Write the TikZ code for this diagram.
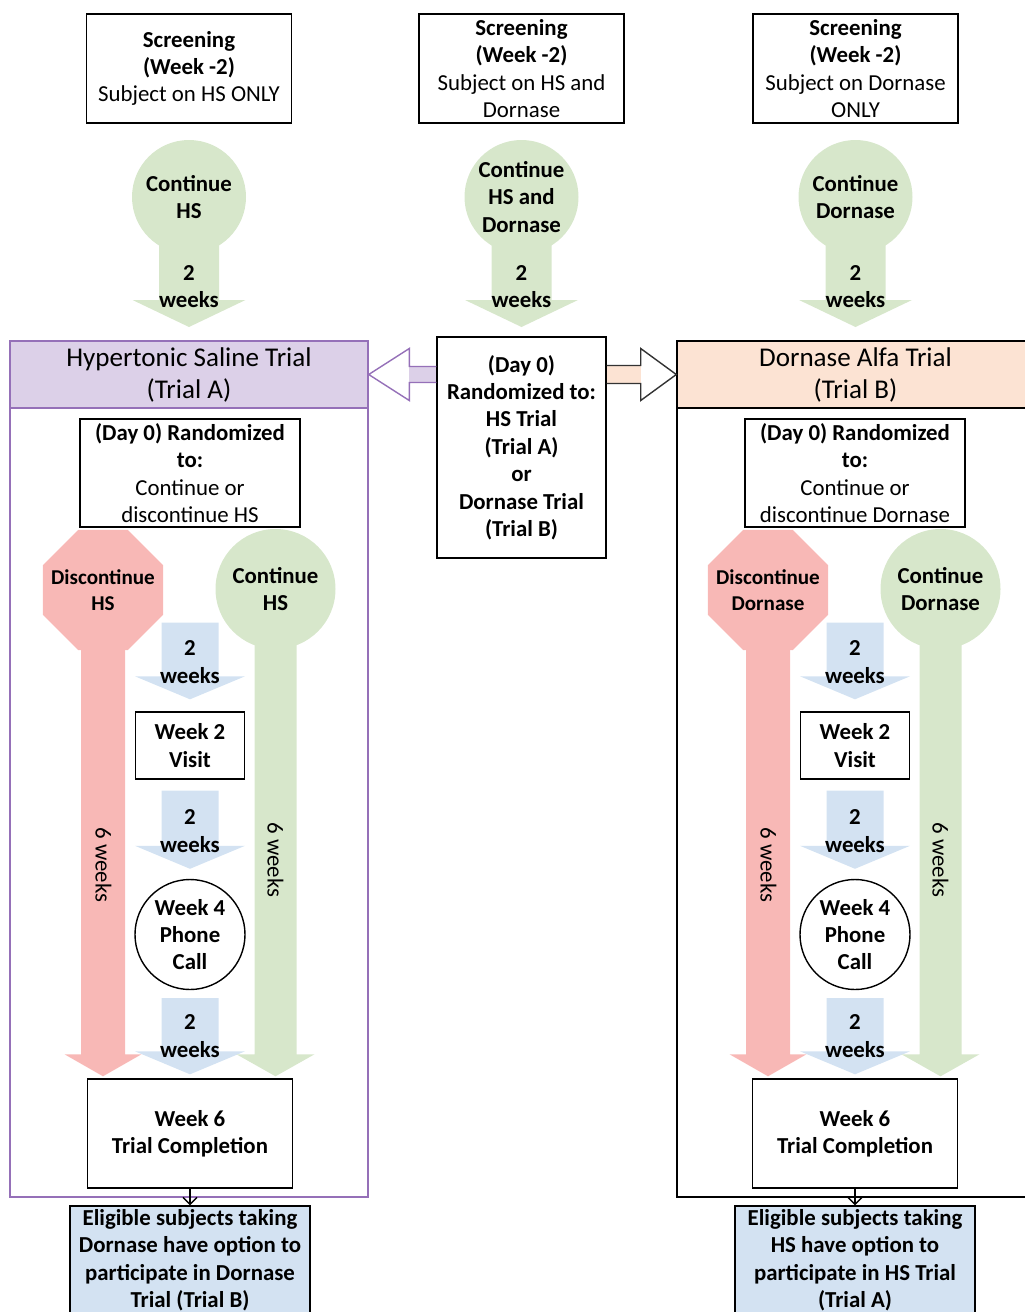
\documentclass[tikz,border=0pt]{standalone}
\usepackage{fontspec}
\setmainfont{Carlito}
\usetikzlibrary{calc,shapes.geometric,arrows.meta,backgrounds}

\definecolor{leafgreen}{HTML}{D7E7CB}
\definecolor{stopred}{HTML}{F8B8B6}
\definecolor{paleblue}{HTML}{D3E2F2}
\definecolor{lavender}{HTML}{DCD0E8}
\definecolor{peach}{HTML}{FCE3D3}
\definecolor{trialpurple}{HTML}{9570B8}

% fill, from, tip, shaft half width, head half width, head length
\newcommand{\fatarrow}[6]{%
  \fill[#1] ($(#2)+(-#4,0)$) -- ($(#2)+(#4,0)$) -- ($(#3)+(#4,-#6)$) -- ($(#3)+(#5,-#6)$)
    -- (#3) -- ($(#3)+(-#5,-#6)$) -- ($(#3)+(-#4,-#6)$) -- cycle;
}

\begin{document}
\begin{tikzpicture}[x=0.2mm,y=-0.2mm,
  every node/.style={font=\fontsize{13}{15.6}\selectfont, align=center},
  bold/.style={font=\fontsize{13}{15.6}\selectfont\bfseries},
  box/.style={draw, line width=0.8pt, fill=white, inner sep=0pt},
  blob/.style={circle, fill=leafgreen, inner sep=0pt, minimum size=#1},
  blob/.default=22.8mm,
  octo/.style={regular polygon, regular polygon sides=8, fill=stopred, inner sep=0pt,
    minimum size=26mm},
  octotext/.style={font=\fontsize{12}{14.6}\selectfont\bfseries}]

  \useasboundingbox (0,0) rectangle (1024,1312);

  % trial frames
  \draw[trialpurple, line width=0.8pt] (10,341) rectangle (368,1197);
  \draw[line width=0.8pt] (677,341) rectangle (1034,1197);

  \node[box, draw=trialpurple, fill=lavender, minimum width=71.6mm, minimum height=13.4mm,
    font=\fontsize{15.4}{18.2}\selectfont] (hdrA) at (189,374.5) {Hypertonic Saline Trial\\(Trial A)};
  \node[box, fill=peach, minimum width=71.4mm, minimum height=13.4mm,
    font=\fontsize{15.4}{18.2}\selectfont] (hdrB) at (855.5,374.5) {Dornase Alfa Trial\\(Trial B)};
  \node[box, bold, minimum width=33.8mm, minimum height=44.2mm] (mid) at (521.5,447.5)
    {(Day 0)\\Randomized to:\\HS Trial\\(Trial A)\\or\\Dornase Trial\\(Trial B)};

  % screening columns
  \foreach \nm/\xx/\scrtext/\conttext in {A/189/{Subject on HS ONLY}/{Continue\\HS},
      C/521.5/{Subject on HS and\\Dornase}/{Continue\\HS and\\Dornase},
      B/855.5/{Subject on Dornase\\ONLY}/{Continue\\Dornase}} {
    \node[box, minimum width=41mm, minimum height=21.8mm] (scr\nm) at (\xx,68.5)
      {\textbf{Screening}\\\textbf{(Week -2)}\\\scrtext};
    \node[blob, bold] (cont\nm) at (\xx,197) {\conttext};
    \coordinate (tip\nm) at (\xx,327);
    \node[bold] (two\nm) at (\xx,286.5) {2\\weeks};
    \begin{pgfonlayer}{background}
      \fatarrow{leafgreen}{cont\nm.center}{tip\nm}{30}{56.5}{27}
    \end{pgfonlayer}
  }

  % arrows to the two trials
  \coordinate (pa) at (hdrA.east -| mid.west);
  \fill[lavender] ($(pa)+(0,-8)$) rectangle ($(pa)+(-27,8)$);
  \draw[trialpurple, line width=0.8pt] ($(pa)+(0,-8)$) -- ++(-27,0) -- ++(0,-18) -- (hdrA.east)
    -- ($(pa)+(-27,26)$) -- ++(0,-18) -- ++(27,0);
  \coordinate (pb) at (hdrB.west -| mid.east);
  \fill[peach] ($(pb)+(0,-9)$) rectangle ($(pb)+(34,9)$);
  \draw[black!80, line width=0.8pt] ($(pb)+(0,-9)$) -- ++(34,0) -- ++(0,-17) -- (hdrB.west)
    -- ($(pb)+(34,26)$) -- ++(0,-17) -- ++(-34,0);

  % inside each trial
  \foreach \s/\cx/\drug/\elig in {A/190/HS/{Eligible subjects taking\\Dornase have option to\\participate in Dornase\\Trial (Trial B)},
      B/855/Dornase/{Eligible subjects taking\\HS have option to\\participate in HS Trial\\(Trial A)}} {
    \node[box, minimum width=44mm, minimum height=21.6mm] (rand\s) at (\cx,473)
      {\textbf{(Day 0) Randomized}\\\textbf{to:}\\Continue or\\discontinue \drug};
    \node[octo] (disc\s) at (\cx-87,590) {};
    \node[octotext] (discT\s) at (disc\s) {Discontinue\\\drug};
    \node[blob=24mm, bold] (keep\s) at (\cx+85.5,589) {Continue\\\drug};
    \node[box, bold, minimum width=21.8mm, minimum height=13.4mm] (wkII\s) at (\cx,745.5) {Week 2\\Visit};
    \node[box, circle, bold, minimum size=22mm] (wkIV\s) at (\cx,934.5) {Week 4\\Phone\\Call};
    \node[box, bold, minimum width=41mm, minimum height=21.8mm] (wkVI\s) at (\cx,1133.5) {Week 6\\Trial Completion};
    \node[box, bold, fill=paleblue, minimum width=48mm, minimum height=21.6mm] (elig\s) at (\cx,1260) {\elig};
    \draw[line width=0.8pt, -{Straight Barb[length=4pt,width=8pt]}] (wkVI\s) -- (elig\s);

    \node[bold] (twoI\s) at (\cx,662) {2\\weeks};
    \node[bold] (twoII\s) at (\cx,831) {2\\weeks};
    \node[bold] (twoIII\s) at (\cx,1036) {2\\weeks};
    \node[rotate=-90] (sixR\s) at (\cx-86.5,865) {6 weeks};
    \node[rotate=-90] (sixG\s) at (\cx+85.5,860) {6 weeks};

    \begin{pgfonlayer}{background}
      \coordinate (bI\s) at ($(rand\s.south)+(0,95)$);
      \coordinate (tI\s) at ($(wkII\s.north)+(0,-12)$);
      \coordinate (bII\s) at ($(wkII\s.south)+(0,11)$);
      \coordinate (tII\s) at ($(wkIV\s.north)+(0,-10)$);
      \coordinate (bIII\s) at ($(wkIV\s.south)+(0,8)$);
      \coordinate (tIII\s) at ($(wkVI\s.north)+(0,-4)$);
      \coordinate (tR\s) at ($(disc\s.center |- wkVI\s.north)+(0,-2)$);
      \coordinate (tG\s) at ($(keep\s.center |- wkVI\s.north)+(0,-2)$);
      \fatarrow{paleblue}{bI\s}{tI\s}{28.5}{55}{23}
      \fatarrow{paleblue}{bII\s}{tII\s}{28.5}{55}{23}
      \fatarrow{paleblue}{bIII\s}{tIII\s}{28.5}{55}{23}
      \fatarrow{stopred}{disc\s.center}{tR\s}{22}{38.5}{22}
      \fatarrow{leafgreen}{keep\s.center}{tG\s}{21}{39}{22}
    \end{pgfonlayer}
  }
\end{tikzpicture}
\end{document}
